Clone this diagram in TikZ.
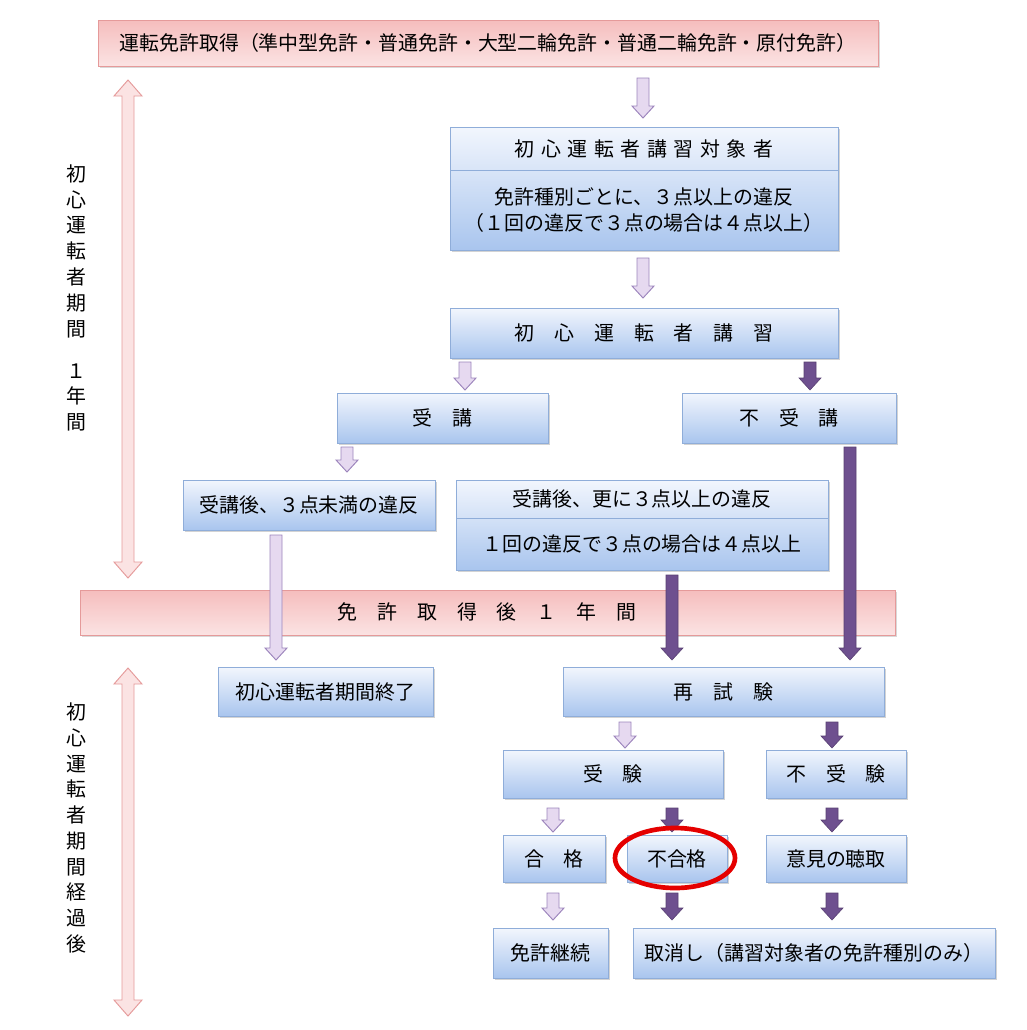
\documentclass[tikz,border=0pt]{standalone}
\usepackage{fontspec}
\setmainfont{Noto Sans CJK JP}
\usetikzlibrary{shadows}
\definecolor{bxtop}{HTML}{F2F6FD}
\definecolor{bxbot}{HTML}{A9C5EE}
\definecolor{bxline}{HTML}{8FADD9}
\definecolor{pktop}{HTML}{F5BDBD}
\definecolor{pkbot}{HTML}{FBE3E3}
\definecolor{pkline}{HTML}{E59A9A}
\definecolor{lafill}{HTML}{E6D9F0}
\definecolor{laline}{HTML}{9C84BC}
\definecolor{dafill}{HTML}{6E508F}
\begin{document}
\begin{tikzpicture}[x=0.03cm,y=-0.03cm,
  bx/.style={draw=bxline,line width=0.8pt,top color=bxtop,bottom color=bxbot,drop shadow={opacity=0.35,shadow xshift=1.5pt,shadow yshift=-1.5pt}},
  pk/.style={draw=pkline,line width=0.8pt,top color=pktop,bottom color=pkbot,drop shadow={opacity=0.3,shadow xshift=1.5pt,shadow yshift=-1.5pt}},
  la/.style={draw=laline,fill=lafill,line width=0.8pt},
  da/.style={draw=dafill!80!black,fill=dafill,line width=0.5pt},
  txt/.style={font=\fontsize{17}{22}\selectfont,align=center}]
\useasboundingbox (0,0) rectangle (1026,1030);
\newcommand\blkarrow[4]{\path[#4] (#1-6,#2) -- (#1+6,#2) -- (#1+6,#3-12) -- (#1+11,#3-12) -- (#1,#3) -- (#1-11,#3-12) -- (#1-6,#3-12) -- cycle;}
\newcommand\dblarrow[3]{\path[draw=pkline,fill=pkbot,line width=0.8pt] (#1,#2) -- (#1+14,#2+16) -- (#1+6,#2+16) -- (#1+6,#3-16) -- (#1+14,#3-16) -- (#1,#3) -- (#1-14,#3-16) -- (#1-6,#3-16) -- (#1-6,#2+16) -- (#1-14,#2+16) -- cycle;}
\newcommand\bxnode[6]{\path[bx] (#1,#2) rectangle (#3,#4); \node[txt] (#5) at ({(#1+#3)/2},{(#2+#4)/2}) {#6};}
\path[pk] (98,20) rectangle (878,66);
\node[txt] (top) at (488,43) {運転免許取得（準中型免許・普通免許・大型二輪免許・普通二輪免許・原付免許）};
\path[pk] (80,590) rectangle (895,635);
\node[txt] (mid) at (487,612) {免　許　取　得　後　１　年　間};
\dblarrow{128}{80}{578}
\node[txt,inner sep=0pt] (lab1) at (76,298) {初\\心\\運\\転\\者\\期\\間\\[14pt]１\\年\\間};
\dblarrow{128}{668}{1016}
\node[txt,inner sep=0pt] (lab2) at (76,828) {初\\心\\運\\転\\者\\期\\間\\経\\過\\後};
\path[bx] (450,127) rectangle (838,250);
\draw[bxline,line width=0.8pt] (450,170) -- (838,170);
\node[txt] (t1) at (644,149) {初\,\,心\,\,運\,\,転\,\,者\,\,講\,\,習\,\,対\,\,象\,\,者};
\node[txt] (t2) at (644,210) {免許種別ごとに、３点以上の違反\\（１回の違反で３点の場合は４点以上）};
\bxnode{450}{308}{838}{358}{kosyu}{初　心　運　転　者　講　習}
\bxnode{337}{393}{548}{443}{juko}{受　講}
\bxnode{682}{393}{896}{443}{fujuko}{不　受　講}
\bxnode{183}{480}{435}{530}{miman}{受講後、３点未満の違反}
\path[bx] (456,480) rectangle (828,570);
\draw[bxline,line width=0.8pt] (456,518) -- (828,518);
\node[txt] (sara1) at (642,499) {受講後、更に３点以上の違反};
\node[txt] (sara2) at (642,544) {１回の違反で３点の場合は４点以上};
\bxnode{218}{667}{433}{716}{owari}{初心運転者期間終了}
\bxnode{563}{667}{884}{716}{saishi}{再　試　験}
\bxnode{503}{750}{723}{798}{juken}{受　験}
\bxnode{766}{750}{906}{798}{fujuken}{不　受　験}
\bxnode{503}{835}{605}{882}{gokaku}{合　格}
\bxnode{627}{835}{727}{882}{fugokaku}{不合格}
\bxnode{766}{835}{906}{882}{iken}{意見の聴取}
\bxnode{493}{928}{608}{978}{keizoku}{免許継続}
\bxnode{633}{928}{995}{978}{torikeshi}{取消し（講習対象者の免許種別のみ）}
\blkarrow{643}{78}{118}{la}
\blkarrow{643}{258}{298}{la}
\blkarrow{465}{362}{390}{la}
\blkarrow{810}{362}{390}{da}
\blkarrow{347}{447}{472}{la}
\blkarrow{850}{447}{660}{da}
\blkarrow{276}{535}{660}{la}
\blkarrow{672}{575}{660}{da}
\blkarrow{625}{722}{748}{la}
\blkarrow{832}{722}{748}{da}
\blkarrow{553}{808}{832}{la}
\blkarrow{672}{808}{832}{da}
\blkarrow{832}{808}{832}{da}
\blkarrow{553}{893}{920}{la}
\blkarrow{672}{893}{920}{da}
\blkarrow{832}{893}{920}{da}
\draw[red!90!black,line width=4pt] (675,858) ellipse [x radius=60,y radius=30];
\end{tikzpicture}
\end{document}
